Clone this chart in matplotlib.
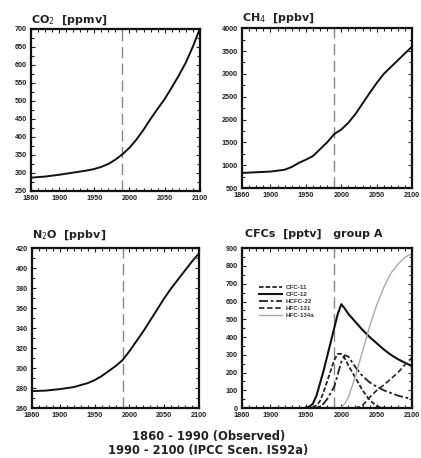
import numpy as np
import matplotlib
matplotlib.use("Agg")
import matplotlib.pyplot as plt
from matplotlib.ticker import MultipleLocator, FixedLocator

plt.rcParams['font.family'] = ['Liberation Sans', 'DejaVu Sans']

# --- data ---
co2_years = [1860, 1880, 1900, 1920, 1940, 1950, 1960, 1970, 1980, 1990, 2000,
             2010, 2020, 2030, 2040, 2050, 2060, 2070, 2080, 2090, 2100]
co2_vals = [287, 290, 295, 301, 307, 311, 317, 325, 337, 352, 370,
            393, 420, 450, 478, 505, 537, 570, 606, 650, 700]

ch4_years = [1860, 1880, 1900, 1910, 1920, 1930, 1940, 1950, 1960, 1970, 1980, 1990,
             2000, 2010, 2020, 2030, 2040, 2050, 2060, 2070, 2080, 2090, 2100]
ch4_vals = [830, 845, 860, 880, 900, 960, 1050, 1120, 1200, 1350, 1500, 1680,
            1780, 1930, 2120, 2350, 2580, 2800, 3000, 3150, 3300, 3450, 3600]

n2o_years = [1860, 1880, 1900, 1920, 1940, 1950, 1960, 1970, 1980, 1990, 2000,
             2010, 2020, 2030, 2040, 2050, 2060, 2070, 2080, 2090, 2100]
n2o_vals = [277, 277.5, 279, 281, 285, 288, 292, 297, 302, 308, 317,
            327, 337, 348, 359, 370, 380, 389, 398, 407, 415]

cfc_years = [1950, 1955, 1960, 1965, 1970, 1975, 1980, 1985, 1990, 1995, 2000,
             2005, 2010, 2020, 2030, 2040, 2050, 2060, 2070, 2080, 2090, 2100]
cfc11 = [0, 2, 5, 15, 40, 90, 150, 210, 270, 305, 305,
         280, 240, 170, 100, 45, 10, 2, 0, 0, 0, 0]
cfc12 = [3, 8, 25, 70, 140, 210, 290, 370, 450, 530, 585,
         560, 530, 485, 440, 400, 365, 330, 300, 275, 255, 235]
hcfc22 = [0, 0, 0, 3, 10, 25, 50, 85, 120, 190, 260,
          298, 290, 230, 180, 145, 120, 100, 85, 70, 60, 50]
hfc131 = [0, 0, 0, 0, 0, 0, 0, 0, 0, 0, 0,
          0, 0, 0, 15, 60, 100, 130, 165, 200, 245, 285]
hfc134a = [0, 0, 0, 0, 0, 0, 0, 0, 0, 0, 5,
           25, 60, 180, 320, 460, 580, 680, 760, 810, 850, 870]

x_ticks = [1860, 1900, 1950, 2000, 2050, 2100]
x_labels = ['1860', '1900', '1950', '2000', '2050', '2100']


def style_axes(ax, ymin, ymax, ystep):
    ax.set_xlim(1860, 2100)
    ax.set_ylim(ymin, ymax)
    ax.xaxis.set_major_locator(FixedLocator(x_ticks))
    ax.set_xticklabels(x_labels)
    ax.xaxis.set_minor_locator(MultipleLocator(10))
    ax.yaxis.set_major_locator(MultipleLocator(ystep))
    ax.yaxis.set_minor_locator(MultipleLocator(ystep / 2))
    ax.tick_params(which='both', direction='in', top=True, right=True,
                   labelsize=5.2, width=0.8, colors='#222222', pad=3)
    ax.tick_params(which='major', length=3)
    ax.tick_params(which='minor', length=2)
    for lab in ax.get_xticklabels() + ax.get_yticklabels():
        lab.set_fontweight('bold')
    for sp in ax.spines.values():
        sp.set_linewidth(1.6)
        sp.set_color('#111111')
    ax.axvline(1990, color='#888888', lw=1.0, ls=(0, (8, 4)))


fig = plt.figure(figsize=(4.21, 4.58), dpi=100)

ax1 = fig.add_axes([0.0736, 0.583, 0.401, 0.354])
ax2 = fig.add_axes([0.575, 0.5895, 0.404, 0.349])
ax3 = fig.add_axes([0.076, 0.109, 0.397, 0.349])
ax4 = fig.add_axes([0.575, 0.109, 0.404, 0.349])

style_axes(ax1, 250, 700, 50)
style_axes(ax2, 500, 4000, 500)
style_axes(ax3, 260, 420, 20)
style_axes(ax4, 0, 900, 100)

ax1.plot(co2_years, co2_vals, color='#111111', lw=1.4)
ax2.plot(ch4_years, ch4_vals, color='#111111', lw=1.4)
ax3.plot(n2o_years, n2o_vals, color='#111111', lw=1.4)

ax4.plot(cfc_years, cfc11, color='#222222', lw=1.3, ls=(0, (2.5, 1.2)), label='CFC-11')
ax4.plot(cfc_years, cfc12, color='#111111', lw=1.5, label='CFC-12')
ax4.plot(cfc_years, hcfc22, color='#222222', lw=1.3, ls=(0, (5, 1.5, 1.5, 1.5)), label='HCFC-22')
ax4.plot(cfc_years, hfc131, color='#333333', lw=1.3, ls=(0, (3, 1.5)), label='HFC-131')
ax4.plot(cfc_years, hfc134a, color='#aaaaaa', lw=1.0, label='HFC-134a')
leg = ax4.legend(loc='upper left', bbox_to_anchor=(0.10, 0.77), fontsize=4.5,
                 frameon=False, handlelength=3.7, labelspacing=0.25,
                 handletextpad=0.6, borderpad=0, borderaxespad=0)
for t in leg.get_texts():
    t.set_fontweight('bold')
    t.set_color('#333333')

title_kw = dict(fontsize=8, fontweight='bold', color='#222222',
                family=['DejaVu Sans'], ha='left', va='baseline')
fig.text(0.074, 0.951, 'CO$_2$  [ppmv]', **title_kw)
fig.text(0.575, 0.954, 'CH$_4$  [ppbv]', **title_kw)
fig.text(0.076, 0.481, 'N$_2$O  [ppbv]', **title_kw)
fig.text(0.583, 0.483, 'CFCs  [pptv]   group A', **title_kw)

cap_kw = dict(ha='center', va='center', fontsize=8.3, fontweight='bold',
              color='#222222', family=['DejaVu Sans'])
fig.text(0.495, 0.046, '1860 - 1990 (Observed)', **cap_kw)
fig.text(0.495, 0.017, '1990 - 2100 (IPCC Scen. IS92a)', **cap_kw)

fig.savefig('out.png', dpi=100)
